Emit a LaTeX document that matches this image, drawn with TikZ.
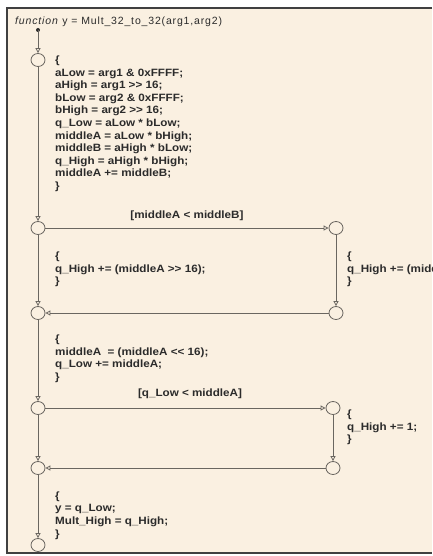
\documentclass[tikz,border=0pt]{standalone}
\usepackage{fontspec}
\setmainfont{Liberation Sans}
\usetikzlibrary{arrows.meta,shapes.geometric}
\definecolor{bg}{HTML}{FAF0E1}
\definecolor{ln}{HTML}{6A6660}
\definecolor{tx}{HTML}{2B2B2B}
\newcommand\shr{>\kern0pt>}
\newcommand\shl{<\kern0pt<}
\begin{document}
\begin{tikzpicture}[x=1pt,y=-1pt,
  junc/.style={ellipse,draw=ln,line width=0.8pt,fill=bg,minimum width=14pt,minimum height=13pt,inner sep=0pt},
  flow/.style={draw=ln,line width=0.8pt,-{Triangle[open,length=5pt,width=5pt]}},
  code/.style={font=\fontsize{10.6}{12.6}\selectfont\bfseries\addfontfeatures{FakeStretch=1.1},text=tx,align=left,anchor=base west,inner sep=0pt},
  guard/.style={code,anchor=base}]
\useasboundingbox (0,0) rectangle (432,556);
\fill[white] (0,0) rectangle (432,556);
\fill[bg] (7,8) rectangle (432,553);
\draw[line width=1.6pt,color=black!75] (432,8) -- (7,8) -- (7,553) -- (432,553);

\node[code,font=\fontsize{10.5}{12}\selectfont\addfontfeatures{LetterSpace=8},text=tx] (title) at (15,25) {\textit{function} y = Mult\_32\_to\_32(arg1,arg2)};
\coordinate (start) at (38,30);
\fill[tx] (start) circle (2pt);

\node[junc] (c1) at (38,60) {};
\node[junc] (c2) at (38,228) {};
\node[junc] (c2r) at (336,228) {};
\node[junc] (c3) at (38,313) {};
\node[junc] (c3r) at (336,313) {};
\node[junc] (c4) at (38,408) {};
\node[junc] (c4r) at (333,408) {};
\node[junc] (c5) at (38,468) {};
\node[junc] (c5r) at (333,468) {};
\node[junc] (c6) at (38,545) {};

% anchors at the baseline of each block's last line
\node[code] (b1) at (55,189.5) {\{\\aLow = arg1 \& 0xFFFF;\\aHigh = arg1 \shr{} 16;\\bLow = arg2 \& 0xFFFF;\\bHigh = arg2 \shr{} 16;\\q\_Low = aLow * bLow;\\middleA = aLow * bHigh;\\middleB = aHigh * bLow;\\q\_High = aHigh * bHigh;\\middleA += middleB;\\\}};
\node[code] (b2) at (55,284.7) {\{\\q\_High += (middleA \shr{} 16);\\\}};
\node[code] (b2r) at (347,284.7) {\{\\q\_High += (middleA \shr{} 16);\\\}};
\node[code] (b3) at (55,380.3) {\{\\middleA\ \ = (middleA \shl{} 16);\\q\_Low += middleA;\\\}};
\node[code] (b4r) at (347,442.7) {\{\\q\_High += 1;\\\}};
\node[code] (b5) at (55,537) {\{\\y = q\_Low;\\Mult\_High = q\_High;\\\}};

\node[guard] (g1) at (187,218.5) {[middleA < middleB]};
\node[guard] (g2) at (190,396.5) {[q\_Low < middleA]};

\draw[flow] (start) -- (c1);
\draw[flow] (c1) -- (c2);
\draw[flow] (c2) -- (c2r);
\draw[flow] (c2) -- (c3);
\draw[flow] (c2r) -- (c3r);
\draw[flow] (c3r) -- (c3);
\draw[flow] (c3) -- (c4);
\draw[flow] (c4) -- (c4r);
\draw[flow] (c4) -- (c5);
\draw[flow] (c4r) -- (c5r);
\draw[flow] (c5r) -- (c5);
\draw[flow] (c5) -- (c6);
\end{tikzpicture}
\end{document}
